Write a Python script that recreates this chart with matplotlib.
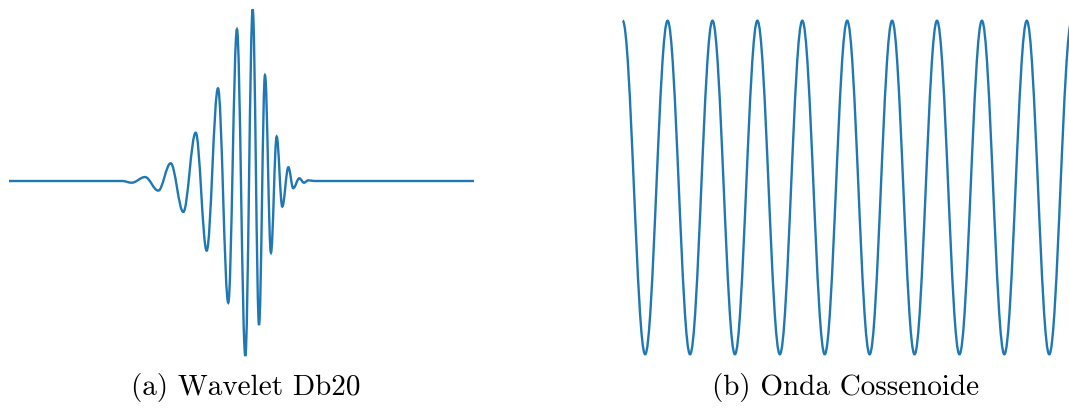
import numpy as np
import matplotlib.pyplot as plt
from matplotlib.path import Path
from matplotlib.patches import PathPatch

# Wavelet Db20: extremos (t em amostras, amplitude normalizada)
wav_t = [0.0, 9.5, 10.29, 11.41, 12.52, 13.56, 14.62, 15.66, 16.58, 17.53, 18.39,
         19.12, 19.82, 20.44, 20.97, 21.47, 21.97, 22.45, 22.92, 23.43, 23.84,
         24.35, 24.74, 25.10, 25.6, 39.0]
wav_a = [0.0, 0.0, -0.010, 0.023, -0.056, 0.103, -0.180, 0.281, -0.405, 0.539, -0.708,
         0.882, -1.017, 0.998, -0.837, 0.615, -0.417, 0.258, -0.149, 0.080, -0.042,
         0.016, -0.010, 0.004, 0.0, 0.0]

# Onda cossenoide: picos e vales (t em periodos)
cos_t = [0.0, 0.5, 1.0, 1.5, 2.0, 2.5, 3.0, 3.5, 4.0, 4.5, 5.0,
         5.5, 6.0, 6.5, 7.0, 7.5, 8.0, 8.5, 9.0, 9.5, 10.0]
cos_a = [1, -1, 1, -1, 1, -1, 1, -1, 1, -1, 1,
         -1, 1, -1, 1, -1, 1, -1, 1, -1, 1]

legendas = ['(a) Wavelet Db20', '(b) Onda Cossenoide']

COR = '#1f77b4'
W, H = 1069, 409


def caminho_suave(t, a, k=0.364):
    # curvas de Bezier com tangente horizontal em cada extremo
    verts = [(t[0], a[0])]
    codes = [Path.MOVETO]
    for i in range(len(t) - 1):
        dt = t[i + 1] - t[i]
        verts += [(t[i] + k * dt, a[i]), (t[i + 1] - k * dt, a[i + 1]), (t[i + 1], a[i + 1])]
        codes += [Path.CURVE4] * 3
    return Path(verts, codes)


def eixo(fig, x0, x1, yc, amp, ylim=1.05):
    # posicao em pixels -> fracao da figura
    y_top = yc - ylim * amp
    alt = 2 * ylim * amp
    return fig.add_axes([x0 / W, 1 - (y_top + alt) / H, (x1 - x0) / W, alt / H])


fig = plt.figure(figsize=(W / 100, H / 100), dpi=100)

ax1 = eixo(fig, 9, 474, 181, 172)
ax1.add_patch(PathPatch(caminho_suave(wav_t, wav_a), fill=False, edgecolor=COR, lw=1.7))
ax1.set_xlim(wav_t[0], wav_t[-1])
ax1.set_ylim(-1.05, 1.05)
ax1.axis('off')

ax2 = eixo(fig, 622.7, 1071.7, 187.5, 166.8)
ax2.add_patch(PathPatch(caminho_suave(cos_t, cos_a), fill=False, edgecolor=COR, lw=1.7,
                        clip_on=False))
ax2.set_xlim(cos_t[0], cos_t[-1])
ax2.set_ylim(-1.05, 1.05)
ax2.axis('off')

fig.text(246 / W, 1 - 395 / H, legendas[0], ha='center', va='baseline',
         fontfamily='cmr10', fontsize=21)
fig.text(846 / W, 1 - 395 / H, legendas[1], ha='center', va='baseline',
         fontfamily='cmr10', fontsize=21)

fig.savefig('out.png', dpi=100)
